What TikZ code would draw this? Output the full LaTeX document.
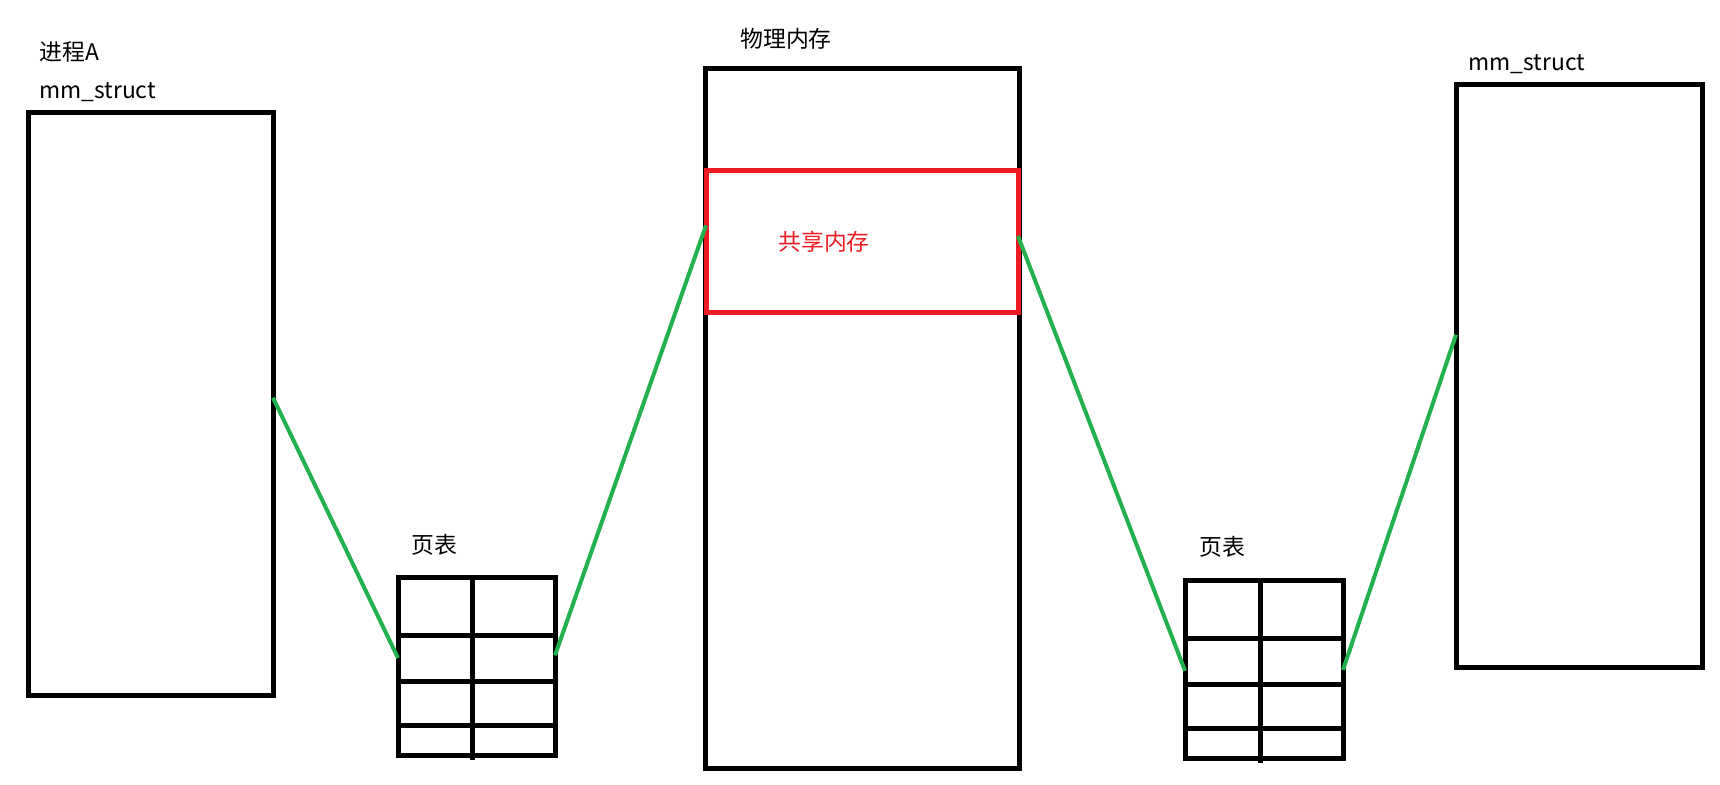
\documentclass[tikz,border=0pt]{standalone}
\usepackage{fontspec}
\setmainfont{Noto Sans CJK SC}
\usepackage{tikz}
\usetikzlibrary{calc, positioning}

\definecolor{paintred}{HTML}{ED1C24}
\definecolor{paintgreen}{HTML}{22B14C}

\tikzset{
	box/.style={draw, line width=1mm, inner sep=0pt, outer sep=0pt, anchor=north west},
	txt/.style={anchor=base west, inner sep=0pt, font=\fontsize{13pt}{15pt}\selectfont},
	link/.style={line width=.8mm, color=paintgreen},
}

\begin{document}
\begin{tikzpicture}[x=0.2mm, y=-0.2mm]
	\useasboundingbox (0,0) rectangle (1720,784);
	
	% Boxes
	\node[box, minimum width=49mm, minimum height=116.6mm] (procA) at (28,112) {};
	\node[box, minimum width=62.8mm, minimum height=140mm] (mem) at (705,68) {};
	\node[box, draw=paintred, minimum width=62.4mm, minimum height=28.4mm] (shm) at (706,170) {};
	\node[box, minimum width=49.2mm, minimum height=116.6mm] (procB) at (1456,84) {};
	\node[box, minimum width=31.4mm, minimum height=35.6mm] (ptA) at (398,577) {};
	\node[box, minimum width=31.6mm, minimum height=35.6mm] (ptB) at (1185,580) {};
	
	% Page table cells
	\foreach \t in {ptA, ptB} {
		\foreach \f in {.33,.587,.833}
			\draw[line width=1mm] ($(\t.north west)!\f!(\t.south west)$) -- ($(\t.north east)!\f!(\t.south east)$);
		\draw[line width=1mm] ($(\t.north west)!.477!(\t.north east)$) -- ($(\t.south west)!.477!(\t.south east)$) -- ++(0,5);
	}
	
	% Labels
	\node[txt] (nameA) at (39,60) {进程A};
	\node[txt] (mmA) at (39,98) {mm\_struct};
	\node[txt] (memName) at (740,47) {物理内存};
	\node[txt, text=paintred] (shmName) at (778,250) {共享内存};
	\node[txt] (mmB) at (1468,70) {mm\_struct};
	\node[txt] (ptAName) at (411,553) {页表};
	\node[txt] (ptBName) at (1199,555) {页表};
	
	% Mappings
	\draw[link] ($(procA.north east)!.49!(procA.south east)$) -- ($(ptA.north west)!.455!(ptA.south west)$);
	\draw[link] ($(ptA.north east)!.44!(ptA.south east)$) -- ($(shm.north west)!.39!(shm.south west)$);
	\draw[link] ($(shm.north east)!.465!(shm.south east)$) -- ($(ptB.north west)!.51!(ptB.south west)$);
	\draw[link] ($(ptB.north east)!.505!(ptB.south east)$) -- ($(procB.north west)!.43!(procB.south west)$);
\end{tikzpicture}
\end{document}
